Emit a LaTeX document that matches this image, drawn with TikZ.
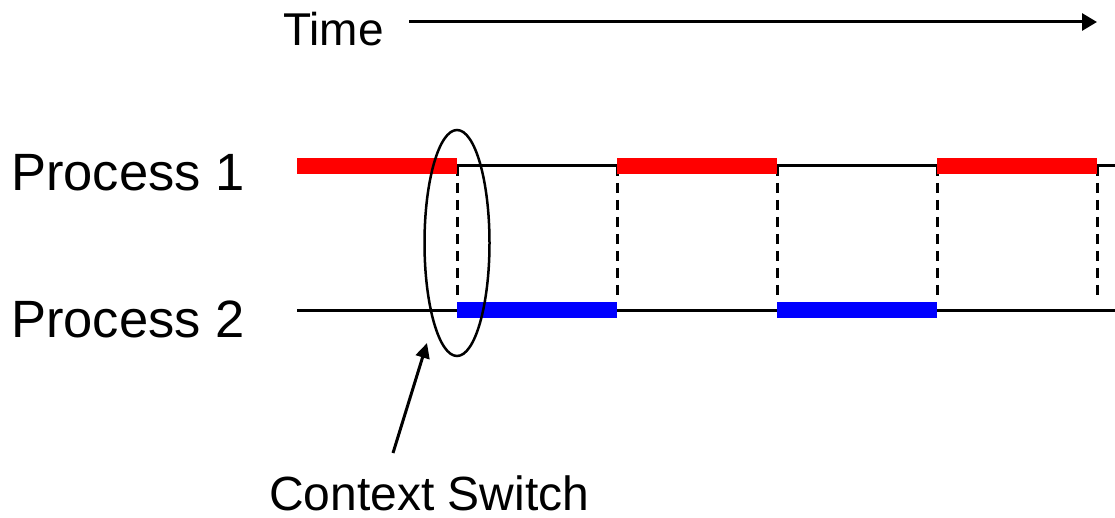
\documentclass[tikz,border=0pt]{standalone}
\usepackage{fontspec}
\setmainfont{Liberation Sans}
\usetikzlibrary{arrows.meta,shapes.geometric}
\definecolor{runred}{RGB}{255,0,0}
\definecolor{runblue}{RGB}{0,0,255}
\begin{document}
\begin{tikzpicture}[x=1pt,y=-1pt,
  lbl/.style={inner sep=0pt, anchor=base west, font=\fontsize{52.5}{60}\selectfont},
  track/.style={line width=3pt},
  run/.style={line width=16pt},
  swap/.style={line width=3pt, dash pattern=on 10pt off 7pt},
]
\useasboundingbox (0,0) rectangle (1115,518);

% labels
\node[lbl, font=\fontsize{46}{54}\selectfont] (time) at (283,46) {Time};
\node[lbl] (p1) at (11,191) {Process 1};
\node[lbl] (p2) at (11,337) {Process 2};
\node[lbl, font=\fontsize{48}{56}\selectfont] (csl) at (269,510) {Context Switch};

% time axis
\coordinate (t0) at (409,22);
\coordinate (t1) at (1097,22);
\draw[line width=3pt, -{Triangle[length=15pt,width=17pt]}] (t0) -- (t1);

% switch instants on both tracks
\foreach \i/\x in {1/457,2/617,3/777,4/937,5/1097} {
  \coordinate (a\i) at (\x,166);
  \coordinate (b\i) at (\x,302);
}
\coordinate (a0) at (297,166);
\coordinate (b0) at (297,310);
\coordinate (aend) at (1115,166);
\coordinate (bend) at (1115,310);

% idle tracks
\draw[track] (a1) -- (aend);
\draw[track] (b0) -- (bend);

% context switches
\foreach \i in {1,...,5} \draw[swap] (a\i) -- (b\i);

% running intervals
\draw[run, runred] (a0) -- (a1);
\draw[run, runred] (a2) -- (a3);
\draw[run, runred] (a4) -- (a5);
\draw[run, runblue] (457,310) -- (617,310);
\draw[run, runblue] (777,310) -- (937,310);

% highlighted switch
\node[draw, line width=2.5pt, ellipse, minimum width=65pt, minimum height=226pt, inner sep=0pt] (cs) at (457,243) {};
\coordinate (cstail) at (393,453);
\coordinate (cstip) at (427,343);
\draw[line width=3pt, -{Triangle[length=15pt,width=14pt]}] (cstail) -- (cstip);
\end{tikzpicture}
\end{document}
